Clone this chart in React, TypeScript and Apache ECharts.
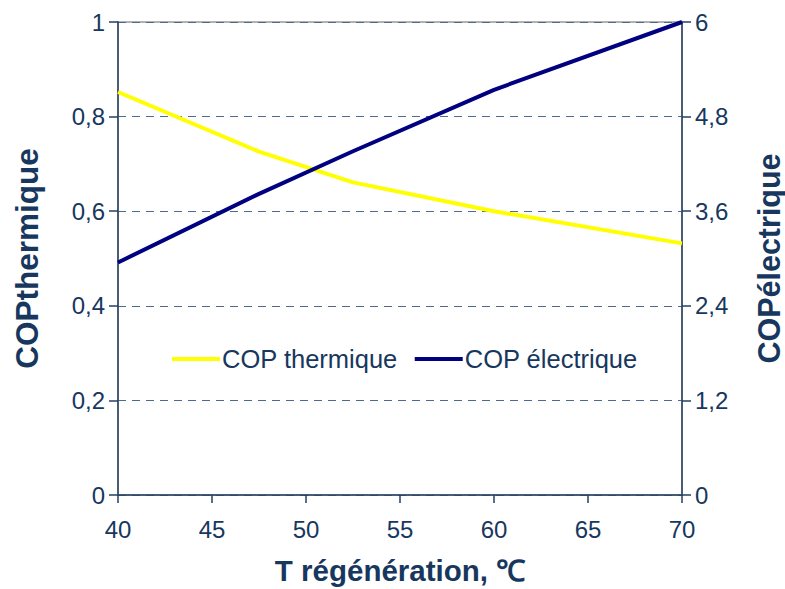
import React, { useEffect, useRef } from "react";
import * as echarts from "echarts";

const temperatures = [40, 47.5, 52.5, 60, 70];
const copThermique = [0.852, 0.726, 0.661, 0.6, 0.532];
const copElectrique = [2.95, 3.82, 4.36, 5.14, 6.0];
const leftTicks = [0, 0.2, 0.4, 0.6, 0.8, 1];
const rightTicks = [0, 1.2, 2.4, 3.6, 4.8, 6];

const TEXT = "#17375E";
const FONT = "'Liberation Sans', Arial, sans-serif";

const fmt = (v: number) => {
  const s = Number(v.toFixed(1)).toString();
  return s.replace(".", ",");
};

export default function App() {
  const ref = useRef<HTMLDivElement>(null);
  useEffect(() => {
    if (!ref.current) return;
    const chart = echarts.init(ref.current, undefined, { renderer: "svg" });
    const axisLine = { show: true, lineStyle: { color: "#243F60", width: 1.5 } };
    chart.setOption({
      animation: false,
      backgroundColor: "#fff",
      textStyle: { fontFamily: FONT },
      grid: {
        left: 118,
        right: 103,
        top: 22,
        bottom: 94,
        show: true,
        borderColor: "#999",
        borderWidth: 1.5,
        containLabel: false,
        outerBoundsMode: "none",
      },
      legend: {
        left: 167,
        top: 341,
        itemWidth: 48,
        itemHeight: 4,
        itemGap: 17,
        icon: "rect",
        textStyle: { fontSize: 25.5, color: TEXT, fontFamily: FONT, padding: [0, 0, 0, -3] },
        data: ["COP thermique", "COP électrique"],
      },
      xAxis: {
        type: "value",
        min: 40,
        max: 70,
        interval: 5,
        name: "T régénération, ℃",
        nameLocation: "middle",
        nameGap: 60,
        nameMoveOverlap: false,
        nameTextStyle: { fontSize: 29.5, fontWeight: "bold", color: TEXT, fontFamily: FONT, verticalAlign: "top" },
        axisLine,
        axisTick: { show: true, length: 8, lineStyle: { color: "#243F60", width: 1.5 } },
        axisLabel: { fontSize: 24, color: TEXT, margin: 22, fontFamily: FONT },
        splitLine: { show: false },
      },
      yAxis: [
        {
          type: "value",
          min: leftTicks[0],
          max: leftTicks[leftTicks.length - 1],
          interval: 0.2,
          name: "COPthermique",
          nameLocation: "middle",
          nameGap: 75,
          nameMoveOverlap: false,
          nameTextStyle: { fontSize: 31.5, fontWeight: "bold", color: TEXT, fontFamily: FONT },
          axisLine,
          axisTick: { show: true, length: 9, lineStyle: { color: "#243F60", width: 1.5 } },
          axisLabel: { fontSize: 24, color: TEXT, margin: 13, formatter: (v: number) => fmt(v), fontFamily: FONT },
          splitLine: { show: true, lineStyle: { color: "#4A6A90", type: [8, 6], width: 1 } },
        },
        {
          type: "value",
          min: rightTicks[0],
          max: rightTicks[rightTicks.length - 1],
          interval: 1.2,
          position: "right",
          name: "COPélectrique",
          nameLocation: "middle",
          nameGap: 71,
          nameRotate: 90,
          nameMoveOverlap: false,
          nameTextStyle: { fontSize: 30.5, fontWeight: "bold", color: TEXT, fontFamily: FONT },
          axisLine,
          axisTick: { show: true, length: 9, lineStyle: { color: "#243F60", width: 1.5 } },
          axisLabel: { fontSize: 24, color: TEXT, margin: 13, formatter: (v: number) => fmt(v), fontFamily: FONT },
          splitLine: { show: false },
        },
      ],
      series: [
        {
          name: "COP thermique",
          type: "line",
          yAxisIndex: 0,
          showSymbol: false,
          symbol: "none",
          color: "#FFFF00",
          lineStyle: { color: "#FFFF00", width: 4 },
          data: temperatures.map((t, i) => [t, copThermique[i]]),
        },
        {
          name: "COP électrique",
          type: "line",
          yAxisIndex: 1,
          showSymbol: false,
          symbol: "none",
          color: "#000080",
          lineStyle: { color: "#000080", width: 4 },
          data: temperatures.map((t, i) => [t, copElectrique[i]]),
        },
      ],
    });
    return () => chart.dispose();
  }, []);
  return <div ref={ref} style={{ width: 785, height: 589, position: "fixed", left: 0, top: 0 }} />;
}
